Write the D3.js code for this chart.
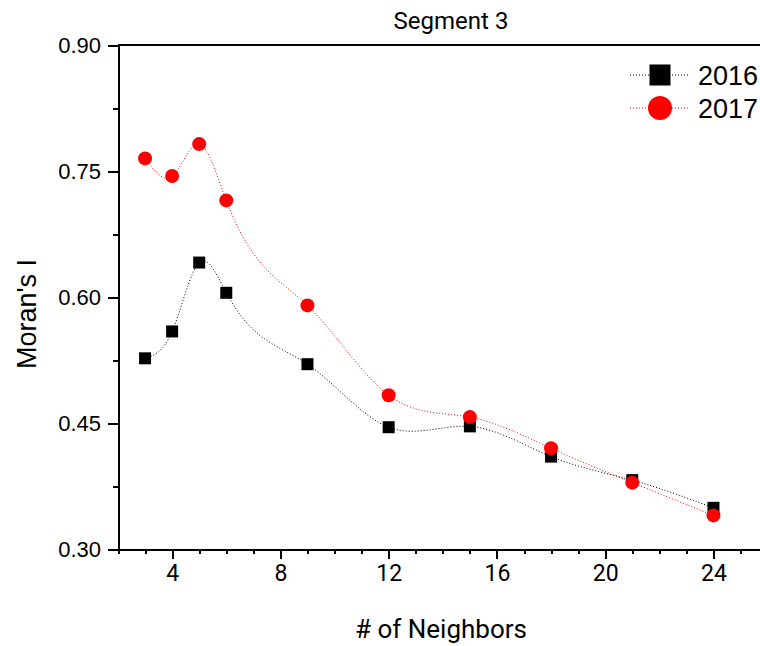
<!DOCTYPE html>
<html>
<head>
<meta charset="utf-8">
<script src="https://cdn.jsdelivr.net/npm/d3@7"></script>
<style>
  html, body { margin: 0; padding: 0; background: #fff; }
  svg { display: block; }
  .axis path, .axis line { stroke: #000; stroke-width: 2; shape-rendering: crispEdges; }
  .axis text { fill: #000; }
</style>
</head>
<body>
<svg id="chart" width="760" height="646"></svg>
<script>
// Number of neighbours used for the spatial weights
const neighbors = [3, 4, 5, 6, 9, 12, 15, 18, 21, 24];
// Moran's I for each year
const moran2016 = [0.527, 0.559, 0.641, 0.605, 0.520, 0.445, 0.446, 0.410, 0.382, 0.349];
const moran2017 = [0.765, 0.744, 0.782, 0.715, 0.590, 0.483, 0.457, 0.420, 0.379, 0.340];
// Axis ticks
const xMajorTicks = [4, 8, 12, 16, 20, 24];
const xMinorTicks = [2, 3, 5, 6, 7, 9, 10, 11, 13, 14, 15, 17, 18, 19, 21, 22, 23, 25];
const yMajorTicks = [0.30, 0.45, 0.60, 0.75, 0.90];
const yMinorTicks = [0.375, 0.525, 0.675, 0.825];

// Natural cubic spline with x as the independent variable, as a d3 curve factory.
function SplineX(context) { this._context = context; }
SplineX.prototype = {
  areaStart() { this._line = 0; },
  areaEnd() { this._line = NaN; },
  lineStart() { this._x = []; this._y = []; },
  point(x, y) { this._x.push(+x); this._y.push(+y); },
  lineEnd() {
    const xs = this._x, ys = this._y, n = xs.length, ctx = this._context;
    if (n) {
      this._line ? ctx.lineTo(xs[0], ys[0]) : ctx.moveTo(xs[0], ys[0]);
      if (n === 2) {
        ctx.lineTo(xs[1], ys[1]);
      } else if (n > 2) {
        const h = [], d = [];
        for (let i = 0; i < n - 1; i++) {
          h[i] = xs[i + 1] - xs[i];
          d[i] = (ys[i + 1] - ys[i]) / h[i];
        }
        // Solve the tridiagonal system for second derivatives (natural ends)
        const M = new Array(n).fill(0);
        const a = [], b = [], c = [], r = [];
        for (let i = 1; i < n - 1; i++) {
          a[i] = h[i - 1];
          b[i] = 2 * (h[i - 1] + h[i]);
          c[i] = h[i];
          r[i] = 6 * (d[i] - d[i - 1]);
        }
        for (let i = 2; i < n - 1; i++) {
          const w = a[i] / b[i - 1];
          b[i] -= w * c[i - 1];
          r[i] -= w * r[i - 1];
        }
        for (let i = n - 2; i >= 1; i--) {
          M[i] = (r[i] - (i < n - 2 ? c[i] * M[i + 1] : 0)) / b[i];
        }
        const m = [];
        for (let i = 0; i < n - 1; i++) m[i] = d[i] - h[i] * (2 * M[i] + M[i + 1]) / 6;
        m[n - 1] = d[n - 2] + h[n - 2] * (M[n - 2] + 2 * M[n - 1]) / 6;
        for (let i = 0; i < n - 1; i++) {
          const t = h[i] / 3;
          ctx.bezierCurveTo(xs[i] + t, ys[i] + m[i] * t,
                            xs[i + 1] - t, ys[i + 1] - m[i + 1] * t,
                            xs[i + 1], ys[i + 1]);
        }
      }
    }
    if (this._line || (this._line !== 0 && n === 1)) ctx.closePath();
    this._line = 1 - this._line;
    this._x = this._y = null;
  }
};
const curveSplineX = context => new SplineX(context);

const svg = d3.select("#chart");

const x = d3.scaleLinear().domain([2, 26]).range([118, 767.6]);
const y = d3.scaleLinear().domain([0.30, 0.90]).range([549, 45]);

const series = [
  { name: "2016", values: moran2016, color: "#000000", shape: "square" },
  { name: "2017", values: moran2017, color: "#ff0000", shape: "circle" }
];

// Title
svg.append("text")
  .attr("x", 451).attr("y", 29)
  .attr("text-anchor", "middle")
  .style("font-family", "Roboto, sans-serif")
  .style("font-size", "24px")
  .text("Segment 3");

// Top frame line
svg.append("line")
  .attr("x1", x(2)).attr("x2", x(26))
  .attr("y1", y(0.9)).attr("y2", y(0.9))
  .attr("stroke", "#000").attr("stroke-width", 2)
  .style("shape-rendering", "crispEdges");

// Minor ticks
svg.append("g").attr("class", "axis")
  .attr("transform", `translate(0,${y(0.3)})`)
  .call(d3.axisBottom(x).tickValues(xMinorTicks).tickSize(5).tickSizeOuter(0).tickFormat(""))
  .call(g => g.select(".domain").remove());
svg.append("g").attr("class", "axis")
  .attr("transform", `translate(${x(2)},0)`)
  .call(d3.axisLeft(y).tickValues(yMinorTicks).tickSize(5).tickSizeOuter(0).tickFormat(""))
  .call(g => g.select(".domain").remove());

// X axis
svg.append("g").attr("class", "axis")
  .attr("transform", `translate(0,${y(0.3)})`)
  .call(d3.axisBottom(x).tickValues(xMajorTicks).tickSize(10).tickSizeOuter(0).tickPadding(6).tickFormat(d3.format("d")))
  .call(g => g.selectAll("text")
    .style("font-family", "Roboto, sans-serif")
    .style("font-size", "23px"));

// Y axis
svg.append("g").attr("class", "axis")
  .attr("transform", `translate(${x(2)},0)`)
  .call(d3.axisLeft(y).tickValues(yMajorTicks).tickSize(10).tickSizeOuter(0).tickPadding(7).tickFormat(d3.format(".2f")))
  .call(g => g.selectAll("text")
    .style("font-family", "'Liberation Sans', Arial, sans-serif")
    .style("font-size", "22px"));

// Axis titles
svg.append("text")
  .attr("x", 441).attr("y", 638)
  .attr("text-anchor", "middle")
  .style("font-family", "Roboto, sans-serif")
  .style("font-size", "26px")
  .text("# of Neighbors");

svg.append("text")
  .attr("transform", "translate(36,314) rotate(-90)")
  .attr("text-anchor", "middle")
  .style("font-family", "'Liberation Sans', Arial, sans-serif")
  .style("font-size", "27px")
  .text("Moran's I");

// Smoothed dotted connectors
const line = d3.line()
  .x(d => x(d[0]))
  .y(d => y(d[1]))
  .curve(curveSplineX);

function drawMarker(g, shape, cx, cy, size, color) {
  if (shape === "square") {
    g.append("rect")
      .attr("x", cx - size / 2).attr("y", cy - size / 2)
      .attr("width", size).attr("height", size)
      .attr("fill", color);
  } else {
    g.append("circle")
      .attr("cx", cx).attr("cy", cy).attr("r", size / 2)
      .attr("fill", color);
  }
}

series.forEach(s => {
  const pts = neighbors.map((n, i) => [n, s.values[i]]);
  svg.append("path")
    .datum(pts)
    .attr("d", line)
    .attr("fill", "none")
    .attr("stroke", s.color)
    .attr("stroke-width", 1)
    .attr("stroke-dasharray", "1,2");
});

series.forEach(s => {
  const g = svg.append("g");
  neighbors.forEach((n, i) => {
    drawMarker(g, s.shape, x(n), y(s.values[i]), s.shape === "square" ? 12 : 14, s.color);
  });
});

// Legend
series.forEach((s, i) => {
  const ly = 75 + i * 33;
  const g = svg.append("g");
  g.append("line")
    .attr("x1", 630).attr("x2", 688)
    .attr("y1", ly).attr("y2", ly)
    .attr("stroke", s.color).attr("stroke-width", 1)
    .attr("stroke-dasharray", "1,2");
  drawMarker(g, s.shape, 660, ly, s.shape === "square" ? 21 : 24, s.color);
  g.append("text")
    .attr("x", 698).attr("y", ly + 10)
    .style("font-family", "'Liberation Sans', Arial, sans-serif")
    .style("font-size", "27px")
    .text(s.name);
});
</script>
</body>
</html>
